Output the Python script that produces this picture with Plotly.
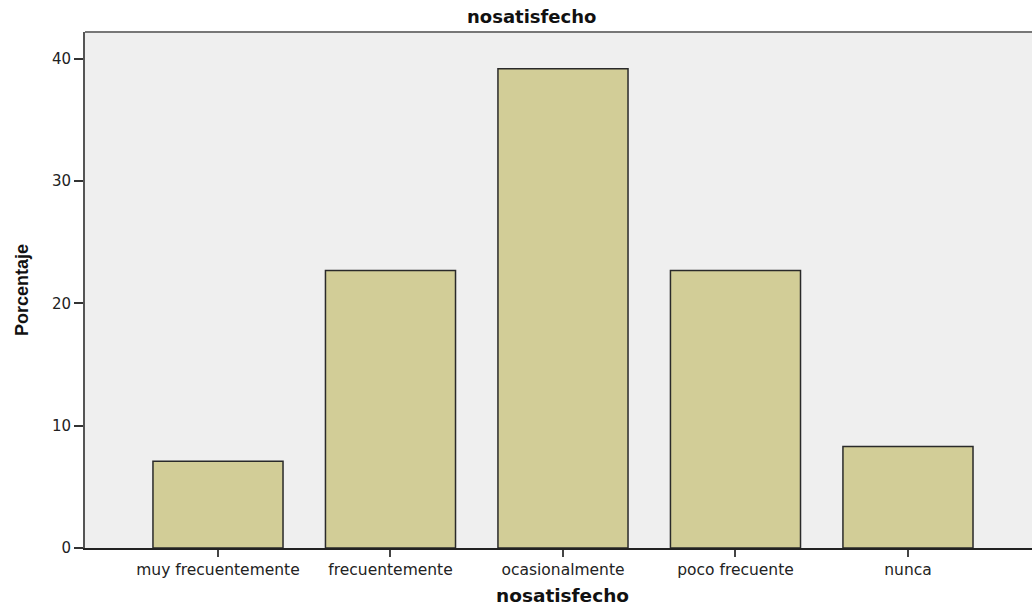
import plotly.graph_objects as go

categories = ["muy frecuentemente", "frecuentemente", "ocasionalmente", "poco frecuente", "nunca"]
percentages = [7.1, 22.7, 39.2, 22.7, 8.3]
y_ticks = [0, 10, 20, 30, 40]

FONT = "DejaVu Sans, Verdana, sans-serif"

fig = go.Figure()
fig.add_trace(go.Bar(
    x=categories, y=percentages,
    marker=dict(color="#D2CD97", line=dict(color="#2a2a2a", width=1.5)),
    width=0.754,
))

fig.update_layout(
    width=1032, height=606,
    margin=dict(l=85, r=0, t=32, b=58),
    paper_bgcolor="white",
    plot_bgcolor="#EFEFEF",
    showlegend=False,
    font=dict(family=FONT, size=13, color="#222"),
    annotations=[
        dict(text="<b>nosatisfecho</b>", xref="paper", yref="paper", x=0.472, y=1.0,
             yshift=16, showarrow=False, font=dict(size=18, color="#111", family=FONT),
             xanchor="center", yanchor="middle"),
        dict(text="<b>nosatisfecho</b>", xref="paper", yref="paper", x=0.5037, y=0,
             yshift=-47, showarrow=False, font=dict(size=18.5, color="#111", family=FONT),
             xanchor="center", yanchor="middle"),
        dict(text="<b>Porcentaje</b>", xref="paper", yref="paper", x=0, y=0.5, xshift=-63,
             showarrow=False, textangle=-90,
             font=dict(size=18, color="#111", family="Liberation Sans Narrow, Arial Narrow, sans-serif"),
             xanchor="center", yanchor="middle"),
    ],
)
fig.update_xaxes(
    range=[-0.771, 4.719], showgrid=False, zeroline=False,
    showline=True, linecolor="#222", linewidth=1.5, mirror=False,
    ticks="outside", ticklen=7, tickcolor="#444", tickwidth=1.5,
    tickfont=dict(size=15.5, color="#222", family=FONT),
)
fig.update_yaxes(
    range=[0, 42.2], tickvals=y_ticks, showgrid=False, zeroline=False,
    showline=True, linecolor="#555", linewidth=2, mirror=False,
    ticks="outside", ticklen=9, tickcolor="#333", tickwidth=1.5,
    tickfont=dict(size=15, color="#222", family=FONT),
)
fig.add_shape(type="line", xref="paper", yref="paper", x0=0, x1=1, y0=1, y1=1,
              line=dict(color="#777", width=2))

fig.write_html(
    "out.html",
    config={"displayModeBar": False},
    post_script="document.body.style.margin='0';document.body.style.overflow='hidden';",
)
